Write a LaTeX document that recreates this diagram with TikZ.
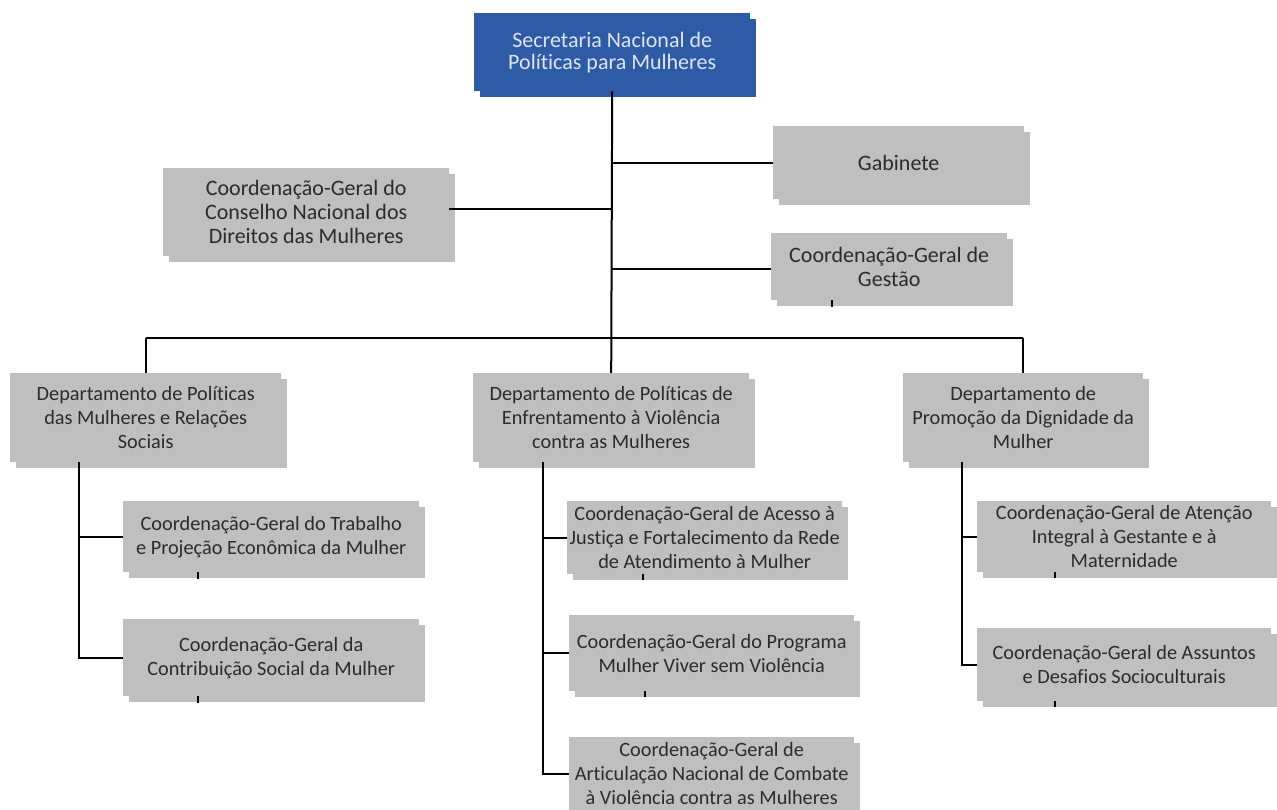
\documentclass[tikz,border=0pt]{standalone}
\usepackage{fontspec}
\setmainfont{Carlito}[Ligatures=NoCommon]
\usetikzlibrary{shadows,calc}
\definecolor{boxgray}{HTML}{BFBFBF}
\definecolor{topblue}{HTML}{2F5AA6}
\definecolor{toptext}{HTML}{DDE5F2}
\definecolor{txt}{HTML}{2B2B2B}
\begin{document}
\begin{tikzpicture}[x=1pt,y=-1pt,
  box/.style={fill=boxgray, draw=none, inner sep=0pt, align=center, text=txt,
    font=\fontsize{20.3}{24}\selectfont, anchor=north west,
    copy shadow={shadow xshift=6pt, shadow yshift=-6pt, opacity=1, fill=boxgray, draw=none}},
  bigbox/.style={box, font=\fontsize{22}{24}\selectfont},
  topbox/.style={box, fill=topblue, text=toptext, font=\fontsize{22}{22}\selectfont,
    copy shadow={shadow xshift=6pt, shadow yshift=-6pt, opacity=1, fill=topblue, draw=none}},
  link/.style={draw=black, line width=2pt},
  tick/.style={draw=black, line width=1.2pt}]
\useasboundingbox (0,0) rectangle (1277,810);
\fill[white] (0,0) rectangle (1277,810);

\node[topbox, minimum width=276pt, minimum height=78pt] (top) at (474,13) {Secretaria Nacional de\\Políticas para Mulheres};
\node[bigbox, minimum width=286pt, minimum height=88pt] (cndm) at (163,168) {Coordenação-Geral do\\Conselho Nacional dos\\Direitos das Mulheres};
\node[bigbox, minimum width=251pt, minimum height=73pt] (gab) at (773,126) {Gabinete};
\node[bigbox, minimum width=236pt, minimum height=67pt] (gest) at (771,233) {Coordenação-Geral de\\Gestão};

\node[box, minimum width=271pt, minimum height=89pt] (dl) at (10,373) {Departamento de Políticas\\das Mulheres e Relações\\Sociais};
\node[box, minimum width=276pt, minimum height=89pt] (dm) at (473,373) {Departamento de Políticas de\\Enfrentamento à Violência\\contra as Mulheres};
\node[box, minimum width=240pt, minimum height=89pt] (dr) at (903,373) {Departamento de\\Promoção da Dignidade da\\Mulher};

\node[box, minimum width=296pt, minimum height=71pt] (l1) at (123,501) {Coordenação-Geral do Trabalho\\e Projeção Econômica da Mulher};
\node[box, minimum width=296pt, minimum height=77pt] (l2) at (123,619) {Coordenação-Geral da\\Contribuição Social da Mulher};

\node[box, minimum width=275pt, minimum height=73pt] (m1) at (567,501) {Coordenação-Geral de Acesso à\\Justiça e Fortalecimento da Rede\\de Atendimento à Mulher};
\node[box, minimum width=285pt, minimum height=76pt] (m2) at (569,615) {Coordenação-Geral do Programa\\Mulher Viver sem Violência};
\node[box, minimum width=285pt, minimum height=73pt] (m3) at (569,737) {Coordenação-Geral de\\Articulação Nacional de Combate\\à Violência contra as Mulheres};

\node[box, minimum width=294pt, minimum height=71pt] (r1) at (977,501) {Coordenação-Geral de Atenção\\Integral à Gestante e à\\Maternidade};
\node[box, minimum width=294pt, minimum height=73pt] (r2) at (977,628) {Coordenação-Geral de Assuntos\\e Desafios Socioculturais};

% trunk
\draw[link] (top.south) -- (dm.north);
\draw[link] (top.south |- gab.west) -- (gab.west);
\draw[link] (top.south |- 0,209) -- (cndm.east |- 0,209);
\draw[link] (top.south |- 0,269) -- (gest.west |- 0,269);
% bus
\coordinate (bus) at (0,338);
\draw[link] (dl.north |- bus) -- (dr.north |- bus);
\draw[link] (dl.north |- bus) -- (dl.north);
\draw[link] (dr.north |- bus) -- (dr.north);

% left department
\coordinate (lx) at ($(dl.south west)+(69,0)$);
\draw[link] (lx) -- (lx |- l2.west) -- (l2.west);
\draw[link] (lx |- l1.west) -- (l1.west);
% middle department
\coordinate (mx) at ($(dm.south west)+(70,0)$);
\draw[link] (mx) -- (mx |- m3.west) -- (m3.west);
\draw[link] (mx |- m1.west) -- (m1.west);
\draw[link] (mx |- m2.west) -- (m2.west);
% right department
\coordinate (rx) at ($(dr.south west)+(59,0)$);
\draw[link] (rx) -- (rx |- r2.west) -- (r2.west);
\draw[link] (rx |- r1.west) -- (r1.west);

% small stubs
\draw[tick] ($(gest.south west)+(61,0)$) -- ++(0,7);
\draw[tick] ($(l1.south west)+(75,0)$) -- ++(0,7);
\draw[tick] ($(l2.south west)+(75,0)$) -- ++(0,7);
\draw[tick] ($(m1.south west)+(76,0)$) -- ++(0,6);
\draw[tick] ($(m2.south west)+(76,0)$) -- ++(0,6);
\draw[tick] ($(r1.south west)+(78,0)$) -- ++(0,6);
\draw[tick] ($(r2.south west)+(78,0)$) -- ++(0,6);
\end{tikzpicture}
\end{document}
